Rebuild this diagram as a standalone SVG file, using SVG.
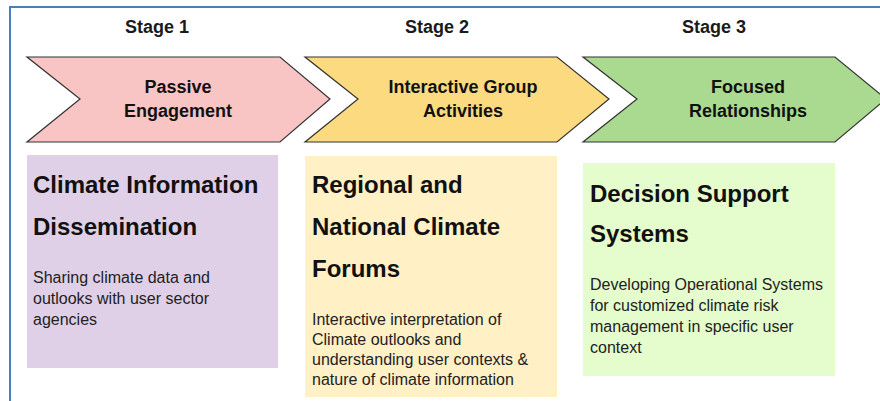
<svg xmlns="http://www.w3.org/2000/svg" width="880" height="401" viewBox="0 0 880 401">
<style>
.stage{font-family:"Liberation Sans",Arial,sans-serif;font-weight:bold;font-size:18px;fill:#1a1a1a;text-anchor:middle}
.alabel{font-family:"Liberation Sans",Arial,sans-serif;font-weight:bold;font-size:18px;fill:#111;text-anchor:middle}
.title{font-family:"Liberation Sans",Arial,sans-serif;font-weight:bold;font-size:24px;fill:#111}
.body{font-family:"Liberation Sans",Arial,sans-serif;font-size:16px;fill:#222}
.arrow{stroke:#333;stroke-width:1.2;stroke-linejoin:miter}
</style>
<rect x="0" y="0" width="880" height="401" fill="#ffffff"/>
<path d="M10,410 L10,7 L890,7" fill="none" stroke="#4a7ebb" stroke-width="2"/>

<g id="stage-labels">
<text class="stage" x="157" y="33">Stage 1</text>
<text class="stage" x="437" y="33">Stage 2</text>
<text class="stage" x="714" y="33">Stage 3</text>
</g>

<g id="arrow1">
<polygon class="arrow" points="27,57 280,57 330,99 280,142 27,142 80,99" fill="#f8c5c4"/>
<text class="alabel" x="178" y="93">Passive</text>
<text class="alabel" x="178" y="117">Engagement</text>
</g>
<g id="arrow2">
<polygon class="arrow" points="305,57 557,57 609,99 557,142 305,142 358,99" fill="#fcda7f"/>
<text class="alabel" x="463" y="93">Interactive Group</text>
<text class="alabel" x="463" y="117">Activities</text>
</g>
<g id="arrow3">
<polygon class="arrow" points="583,57 835,57 886,99 835,142 583,142 637,99" fill="#a9da90"/>
<text class="alabel" x="748" y="93">Focused</text>
<text class="alabel" x="748" y="117">Relationships</text>
</g>

<g id="box1">
<rect x="27" y="155" width="251" height="213" fill="#e0d0e7"/>
<text class="title" x="33" y="193">Climate Information</text>
<text class="title" x="33" y="235">Dissemination</text>
<text class="body" x="33" y="283">Sharing climate data and</text>
<text class="body" x="33" y="304">outlooks with user sector</text>
<text class="body" x="33" y="325">agencies</text>
</g>
<g id="box2">
<rect x="305" y="156" width="252" height="241" fill="#fff0c6"/>
<text class="title" x="312" y="193">Regional and</text>
<text class="title" x="312" y="235">National Climate</text>
<text class="title" x="312" y="277">Forums</text>
<text class="body" x="312" y="325">Interactive interpretation of</text>
<text class="body" x="312" y="345">Climate outlooks and</text>
<text class="body" x="312" y="365">understanding user contexts &amp;</text>
<text class="body" x="312" y="385">nature of climate information</text>
</g>
<g id="box3">
<rect x="583" y="163" width="252" height="213" fill="#e5fccc"/>
<text class="title" x="590" y="202">Decision Support</text>
<text class="title" x="590" y="242">Systems</text>
<text class="body" x="590" y="290">Developing Operational Systems</text>
<text class="body" x="590" y="311">for customized climate risk</text>
<text class="body" x="590" y="332">management in specific user</text>
<text class="body" x="590" y="353">context</text>
</g>
<g id="connectors"/>
</svg>
